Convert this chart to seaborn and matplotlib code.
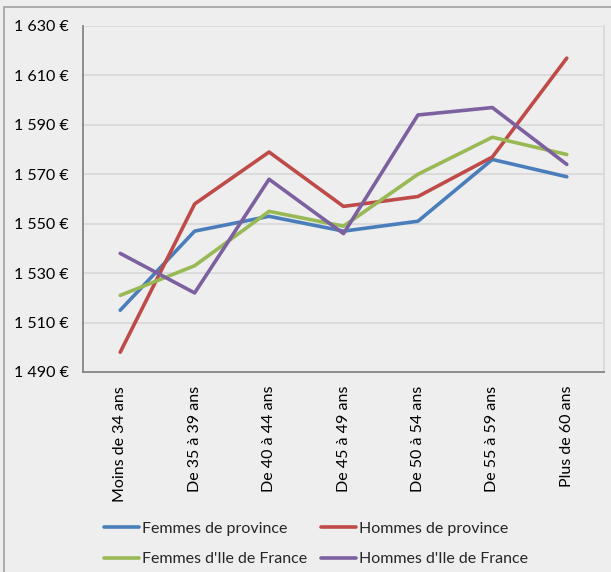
import matplotlib
matplotlib.use("Agg")
import matplotlib.pyplot as plt
import matplotlib.patches as mpatches
from matplotlib.ticker import FuncFormatter, FixedLocator
import seaborn as sns
import pandas as pd

categories = ["Moins de 34 ans", "De 35 à 39 ans", "De 40 à 44 ans", "De 45 à 49 ans",
              "De 50 à 54 ans", "De 55 à 59 ans", "Plus de 60 ans"]
femmes_province = [1515, 1547, 1553, 1547, 1551, 1576, 1569]
hommes_province = [1498, 1558, 1579, 1557, 1561, 1577, 1617]
femmes_idf = [1521, 1533, 1555, 1549, 1570, 1585, 1578]
hommes_idf = [1538, 1522, 1568, 1546, 1594, 1597, 1574]
series_names = ["Femmes de province", "Hommes de province",
                "Femmes d'Ile de France", "Hommes d'Ile de France"]
colors = ["#4A7EBB", "#BE4B48", "#98B954", "#7D60A0"]
y_ticks = [1490, 1510, 1530, 1550, 1570, 1590, 1610, 1630]

rows = []
for name, vals in zip(series_names, [femmes_province, hommes_province, femmes_idf, hommes_idf]):
    for i, (c, v) in enumerate(zip(categories, vals)):
        rows.append({"idx": i, "cat": c, "val": v, "serie": name})
df = pd.DataFrame(rows)

sns.set_theme(style="white")
plt.rcParams["font.family"] = ["Lato", "DejaVu Sans"]

fs = 11.5
bg = "#EEEEEE"
fig = plt.figure(figsize=(6.11, 5.72), dpi=100, facecolor=bg)
ax = fig.add_axes([83/611, 1-372/572, (604-83)/611, (372-26)/572])
ax.set_facecolor(bg)

sns.lineplot(data=df, x="idx", y="val", hue="serie", hue_order=series_names,
             palette=colors, linewidth=2.6, sort=False, ax=ax, legend=False)

ax.set_xlim(-0.5, 6.5)
ax.set_ylim(1490, 1630)
ax.yaxis.set_major_locator(FixedLocator(y_ticks))
ax.yaxis.set_major_formatter(FuncFormatter(lambda v, p: f"{int(v):,}".replace(",", " ") + " €"))
ax.set_xticks(range(len(categories)))
ax.set_xticklabels(categories, rotation=90, fontsize=fs, color="#000000")
ax.set_xticks([i + 0.5 for i in range(len(categories))], minor=True)
ax.tick_params(axis="x", which="major", length=0, pad=10)
ax.tick_params(axis="x", which="minor", length=5, width=1, color="#868686", direction="out")
ax.tick_params(axis="y", which="major", length=5, width=1, color="#868686", direction="out",
               labelsize=fs, labelcolor="#000000", pad=5)
ax.set_xlabel("")
ax.set_ylabel("")
ax.grid(axis="y", color="#D9D9D9", linewidth=1.3)
ax.set_axisbelow(True)
for s in ["left", "bottom"]:
    ax.spines[s].set_color("#868686")
    ax.spines[s].set_linewidth(1.3)
ax.spines["top"].set_visible(False)
ax.spines["right"].set_color("#D9D9D9")
ax.spines["right"].set_linewidth(1.3)

handles = [plt.Line2D([], [], color=c, linewidth=2.6) for c in colors]
order = [0, 2, 1, 3]
fig.legend([handles[i] for i in order], [series_names[i] for i in order],
           loc="center left", bbox_to_anchor=(104/611, 1-544/572),
           ncol=2, frameon=False, fontsize=fs, handlelength=2.2, handletextpad=0.2,
           columnspacing=0.85, labelspacing=1.0, borderpad=0, borderaxespad=0)

fig.patches.append(mpatches.Rectangle((4/611, -0.05), 1.0, 1-7/572+0.05,
                                      transform=fig.transFigure, fill=False,
                                      edgecolor="#A6A6A6", linewidth=1.3))

fig.savefig("out.png", dpi=100, facecolor=bg)
